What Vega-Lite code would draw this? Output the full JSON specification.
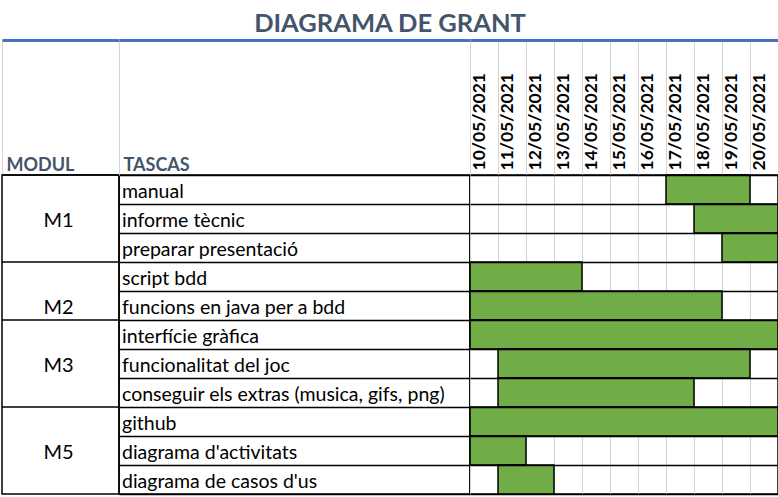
{
  "$schema": "https://vega.github.io/schema/vega-lite/v6.json",
  "padding": {"top": 12, "left": 0, "right": 0, "bottom": 0},
  "background": "white",
  "bounds": "flush",
  "spacing": 0,
  "title": {"text": "DIAGRAMA DE GRANT", "anchor": "middle", "font": "Lato", "fontSize": 25.5, "fontWeight": "bold", "color": "#44546A", "offset": 1},
  "data": {
    "values": [
      {"modul": "M1", "tasca": "manual", "inici": "2021-05-17T00:00:00", "fi": "2021-05-19T23:59:59"},
      {"modul": "M1", "tasca": "informe tècnic", "inici": "2021-05-18T00:00:00", "fi": "2021-05-20T23:59:59"},
      {"modul": "M1", "tasca": "preparar presentació", "inici": "2021-05-19T00:00:00", "fi": "2021-05-20T23:59:59"},
      {"modul": "M2", "tasca": "script bdd", "inici": "2021-05-10T00:00:00", "fi": "2021-05-13T23:59:59"},
      {"modul": "M2", "tasca": "funcions en java per a bdd", "inici": "2021-05-10T00:00:00", "fi": "2021-05-18T23:59:59"},
      {"modul": "M3", "tasca": "interfície gràfica", "inici": "2021-05-10T00:00:00", "fi": "2021-05-20T23:59:59"},
      {"modul": "M3", "tasca": "funcionalitat del joc", "inici": "2021-05-11T00:00:00", "fi": "2021-05-19T23:59:59"},
      {"modul": "M3", "tasca": "conseguir els extras (musica, gifs, png)", "inici": "2021-05-11T00:00:00", "fi": "2021-05-17T23:59:59"},
      {"modul": "M5", "tasca": "github", "inici": "2021-05-10T00:00:00", "fi": "2021-05-20T23:59:59"},
      {"modul": "M5", "tasca": "diagrama d'activitats", "inici": "2021-05-10T00:00:00", "fi": "2021-05-11T23:59:59"},
      {"modul": "M5", "tasca": "diagrama de casos d'us", "inici": "2021-05-11T00:00:00", "fi": "2021-05-12T23:59:59"}
    ]
  },
  "config": {
    "view": {"stroke": "black", "strokeWidth": 1.5},
    "font": "Lato",
    "concat": {"spacing": 0}
  },
  "hconcat": [
    {
      "width": 117,
      "height": 319,
      "transform": [{"window": [{"op": "row_number", "as": "n"}], "groupby": ["modul"]}],
      "layer": [
        {
          "mark": {"type": "rule", "stroke": "black", "strokeWidth": 1.5},
          "encoding": {
            "y": {"field": "tasca", "type": "nominal", "sort": null, "bandPosition": 0, "scale": {"paddingInner": 0, "paddingOuter": 0}, "axis": null},
            "strokeOpacity": {"condition": {"test": "datum.n === 1", "value": 1}, "value": 0}
          }
        },
        {
          "mark": {"type": "text", "font": "Lato", "fontSize": 20, "color": "black", "align": "center", "baseline": "middle", "dx": -2, "dy": 2},
          "encoding": {
            "y": {"field": "tasca", "type": "nominal", "sort": null, "scale": {"paddingInner": 0, "paddingOuter": 0}, "axis": null},
            "x": {"datum": 0.5, "type": "quantitative", "scale": {"domain": [0, 1]},
              "axis": {"orient": "top", "offset": 135, "values": [0], "labels": false, "grid": false,
                "ticks": true, "tickSize": -135, "tickColor": "#D4D4D4", "tickWidth": 1,
                "domain": true, "domainColor": "#4472C4", "domainWidth": 3,
                "title": "MODUL", "titleX": 4, "titleY": 130, "titleAlign": "left", "titleBaseline": "alphabetic", "titleAngle": 0,
                "titleFont": "Lato", "titleFontSize": 18, "titleFontWeight": "bold", "titleColor": "#44546A"}},
            "text": {"condition": {"test": "datum.n === 2", "field": "modul"}, "value": ""}
          }
        }
      ]
    },
    {
      "width": 351,
      "height": 319,
      "mark": {"type": "text", "align": "left", "baseline": "middle", "dx": 3, "dy": 2, "font": "Lato", "fontSize": 19.5, "color": "black"},
      "encoding": {
        "y": {"field": "tasca", "type": "nominal", "sort": null, "scale": {"paddingInner": 0, "paddingOuter": 0},
          "axis": {"title": null, "labels": false, "ticks": false, "domain": false, "grid": true, "gridColor": "black", "gridWidth": 1.5, "tickBand": "extent"}},
        "x": {"datum": 0, "type": "quantitative", "scale": {"domain": [0, 1]},
          "axis": {"orient": "top", "offset": 135, "values": [0], "labels": false, "grid": false,
            "ticks": true, "tickSize": -135, "tickColor": "#D4D4D4", "tickWidth": 1,
            "domain": true, "domainColor": "#4472C4", "domainWidth": 3,
            "title": "TASCAS", "titleX": 4, "titleY": 130, "titleAlign": "left", "titleBaseline": "alphabetic", "titleAngle": 0,
            "titleFont": "Lato", "titleFontSize": 18, "titleFontWeight": "bold", "titleColor": "#44546A"}},
        "text": {"field": "tasca"}
      }
    },
    {
      "width": 308,
      "height": 319,
      "mark": {"type": "rect", "color": "#70AD47", "stroke": "black", "strokeWidth": 1.5},
      "encoding": {
        "y": {"field": "tasca", "type": "nominal", "sort": null, "scale": {"paddingInner": 0, "paddingOuter": 0},
          "axis": {"title": null, "labels": false, "ticks": false, "domain": false, "grid": true, "gridColor": "black", "gridWidth": 1.5, "tickBand": "extent"}},
        "x": {"field": "inici", "type": "temporal",
          "scale": {"domain": [{"year": 2021, "month": 5, "date": 10}, {"year": 2021, "month": 5, "date": 21}]},
          "axis": {"orient": "top", "offset": 135, "title": null,
            "values": [{"year": 2021, "month": 5, "date": 10}, {"year": 2021, "month": 5, "date": 11}, {"year": 2021, "month": 5, "date": 12}, {"year": 2021, "month": 5, "date": 13}, {"year": 2021, "month": 5, "date": 14}, {"year": 2021, "month": 5, "date": 15}, {"year": 2021, "month": 5, "date": 16}, {"year": 2021, "month": 5, "date": 17}, {"year": 2021, "month": 5, "date": 18}, {"year": 2021, "month": 5, "date": 19}, {"year": 2021, "month": 5, "date": 20}],
            "format": "%d/%m/%Y",
            "labelAngle": 270, "labelAlign": "left", "labelBaseline": "middle", "labelOffset": 9, "labelPadding": 5,
            "labelFont": "Lato", "labelFontSize": 17.5, "labelFontWeight": "bold", "labelColor": "black",
            "labelOverlap": false, "labelFlush": false, "labelBound": false,
            "ticks": true, "tickSize": -135, "tickColor": "#D4D4D4", "tickWidth": 1,
            "domain": true, "domainColor": "#4472C4", "domainWidth": 3,
            "grid": true, "gridColor": "#D4D4D4", "gridWidth": 1}},
        "x2": {"field": "fi"}
      }
    }
  ]
}
